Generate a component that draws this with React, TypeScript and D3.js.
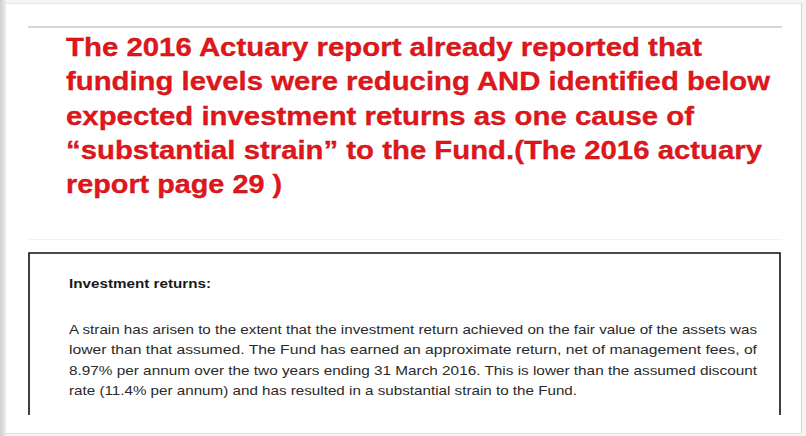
import React from "react";
import * as d3 from "d3";

const titleLines: string[] = [
  "The 2016 Actuary report already reported that",
  "funding levels were reducing AND identified below",
  "expected investment returns as one cause of",
  "\u201Csubstantial strain\u201D to the Fund.(The 2016 actuary",
  "report page 29 )",
];

const heading = "Investment returns:";

const paragraphLines: string[] = [
  "A strain has arisen to the extent that the investment return achieved on the fair value of the assets was",
  "lower than that assumed. The Fund has earned an approximate return, net of management fees, of",
  "8.97% per annum over the two years ending 31 March 2016. This is lower than the assumed discount",
  "rate (11.4% per annum) and has resulted in a substantial strain to the Fund.",
];

// layout (right edges of the lines as laid out in the source slide)
const titleRight = [702, 770, 694, 762, 282];
const paraRight = [757, 757, 757, 577];

const W = 806;
const H = 436;

export default function App() {
  const titleY = d3.scaleLinear().domain([0, titleLines.length - 1]).range([56, 193]);
  const paraY = d3.scaleLinear().domain([0, paragraphLines.length - 1]).range([334, 395]);
  const titleX = 66;
  const paraX = 69;

  return (
    <div style={{ position: "fixed", left: 0, top: 0, width: W, height: H }}>
      <svg width={W} height={H} style={{ display: "block" }}>
        <defs>
          <linearGradient id="lshadow" x1="0" x2="1" y1="0" y2="0">
            <stop offset="0" stopColor="#cfcfcf" />
            <stop offset="1" stopColor="#ececec" />
          </linearGradient>
        </defs>
        <rect x={0} y={0} width={W} height={H} fill="#f4f4f4" />
        <rect x={0} y={0} width={6} height={H} fill="url(#lshadow)" />
        {/* page */}
        <rect x={6} y={3} width={795} height={430} fill="#ffffff" />
        <line x1={6} x2={801} y1={3.5} y2={3.5} stroke="#e6e6e6" />
        <line x1={801.5} x2={801.5} y1={3} y2={433} stroke="#d4d4d4" />
        <line x1={6} x2={801} y1={433.5} y2={433.5} stroke="#dedede" />
        {/* slide top line */}
        <line x1={28} x2={782} y1={27} y2={27} stroke="#c8c8c8" strokeWidth={1.5} />
        <line x1={28} x2={782} y1={239.5} y2={239.5} stroke="#f2f2f2" />
        {/* title */}
        <g
          fontFamily="'Liberation Sans', Arial, Helvetica, sans-serif"
          fontWeight="bold"
          fontSize={25.5}
          fill="#e3161c"
          stroke="#b01010"
          strokeWidth={0.3}
        >
          {titleLines.map((t, i) => (
            <text
              key={i}
              x={titleX}
              y={titleY(i)}
              textLength={titleRight[i] - titleX}
              lengthAdjust="spacingAndGlyphs"
            >
              {t}
            </text>
          ))}
        </g>
        {/* quoted box */}
        <path d="M29,415 V253 H780 V415" fill="none" stroke="#111" strokeWidth={1.6} />
        <text
          x={paraX}
          y={288}
          fontFamily="'Liberation Sans', Arial, sans-serif"
          fontWeight="bold"
          fontSize={12.5}
          fill="#1a1a1a"
          textLength={211 - paraX}
          lengthAdjust="spacingAndGlyphs"
        >
          {heading}
        </text>
        <g fontFamily="'Liberation Sans', Arial, sans-serif" fontSize={12.8} fill="#2a2a2a">
          {paragraphLines.map((t, i) => (
            <text
              key={i}
              x={paraX}
              y={paraY(i)}
              textLength={paraRight[i] - paraX}
              lengthAdjust="spacingAndGlyphs"
            >
              {t}
            </text>
          ))}
        </g>
      </svg>
    </div>
  );
}
